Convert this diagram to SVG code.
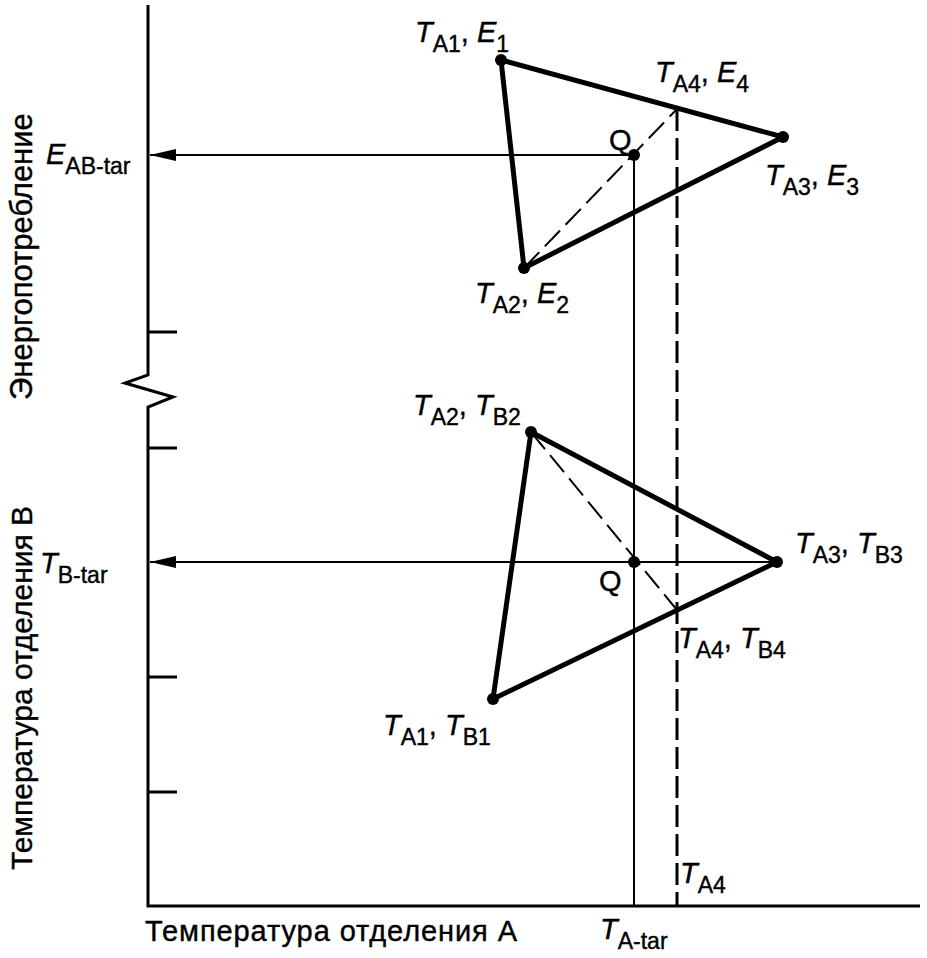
<svg xmlns="http://www.w3.org/2000/svg" width="927" height="958" viewBox="0 0 927 958">
<style>
text{font-family:"Liberation Sans",Arial,sans-serif;fill:#000;stroke:#000;stroke-width:0.4}
.lbl{font-size:29px}
.vl{font-size:30px}
.it{font-style:italic}
.sub{font-size:23px}
.ax{stroke:#000;stroke-width:3;fill:none}
.tri{stroke:#000;stroke-width:5;fill:none;stroke-linejoin:round}
.thin{stroke:#000;stroke-width:2;fill:none}
.dash{stroke:#000;stroke-width:2;fill:none;stroke-dasharray:22 8}
.dash2{stroke:#000;stroke-width:3;fill:none;stroke-dasharray:22 7}
.dot{fill:#000}
</style>
<defs>
<marker id="arr" markerWidth="26" markerHeight="12" refX="26" refY="6" orient="auto" markerUnits="userSpaceOnUse">
<path d="M26,6 L0,0 L0,12 Z" fill="#000"/>
</marker>
</defs>
<g id="axes">
<path class="ax" d="M148,5 V375 L125,383 L173,397 L148,407 V906 H920"/>
<path class="ax" d="M148,332 H177 M148,448 H177 M148,677 H177 M148,792 H177"/>
</g>
<g id="connectors">
<path class="thin" d="M634,155 H150" marker-end="url(#arr)"/>
<path class="thin" d="M777,562 H150" marker-end="url(#arr)"/>
<path class="thin" d="M634,155 V906"/>
<path class="dash2" d="M677,109 V906"/>
<path class="dash" d="M524,268 L677,109"/>
<path class="dash" d="M531,432 L677,610"/>
</g>
<g id="triangle-energy">
<path class="tri" d="M501,60 L783,137 L524,268 Z"/>
<circle class="dot" cx="501" cy="60" r="6"/>
<circle class="dot" cx="783" cy="137" r="6"/>
<circle class="dot" cx="524" cy="268" r="6"/>
<circle class="dot" cx="634" cy="155" r="6"/>
</g>
<g id="triangle-temp">
<path class="tri" d="M531,432 L777,562 L493,699 Z"/>
<circle class="dot" cx="531" cy="432" r="6"/>
<circle class="dot" cx="777" cy="562" r="6"/>
<circle class="dot" cx="493" cy="699" r="6"/>
<circle class="dot" cx="634" cy="562" r="6"/>
</g>
<g id="labels">
<text class="lbl" x="415" y="42"><tspan class="it">T</tspan><tspan class="sub" dy="10">A1</tspan><tspan dy="-10">, </tspan><tspan class="it">E</tspan><tspan class="sub" dy="10">1</tspan></text>
<text class="lbl" x="655" y="82"><tspan class="it">T</tspan><tspan class="sub" dy="10">A4</tspan><tspan dy="-10">, </tspan><tspan class="it">E</tspan><tspan class="sub" dy="10">4</tspan></text>
<text class="lbl" x="609" y="150">Q</text>
<text class="lbl" x="765" y="185"><tspan class="it">T</tspan><tspan class="sub" dy="10">A3</tspan><tspan dy="-10">, </tspan><tspan class="it">E</tspan><tspan class="sub" dy="10">3</tspan></text>
<text class="lbl" x="475" y="303"><tspan class="it">T</tspan><tspan class="sub" dy="10">A2</tspan><tspan dy="-10">, </tspan><tspan class="it">E</tspan><tspan class="sub" dy="10">2</tspan></text>
<text class="lbl" x="46" y="164"><tspan class="it">E</tspan><tspan class="sub" dy="10">AB-tar</tspan></text>
<text class="lbl" x="413" y="415"><tspan class="it">T</tspan><tspan class="sub" dy="10">A2</tspan><tspan dy="-10">, </tspan><tspan class="it">T</tspan><tspan class="sub" dy="10">B2</tspan></text>
<text class="lbl" x="795" y="553"><tspan class="it">T</tspan><tspan class="sub" dy="10">A3</tspan><tspan dy="-10">, </tspan><tspan class="it">T</tspan><tspan class="sub" dy="10">B3</tspan></text>
<text class="lbl" x="599" y="591">Q</text>
<text class="lbl" x="678" y="648"><tspan class="it">T</tspan><tspan class="sub" dy="10">A4</tspan><tspan dy="-10">, </tspan><tspan class="it">T</tspan><tspan class="sub" dy="10">B4</tspan></text>
<text class="lbl" x="383" y="735"><tspan class="it">T</tspan><tspan class="sub" dy="10">A1</tspan><tspan dy="-10">, </tspan><tspan class="it">T</tspan><tspan class="sub" dy="10">B1</tspan></text>
<text class="lbl" x="40" y="573"><tspan class="it">T</tspan><tspan class="sub" dy="10">B-tar</tspan></text>
<text class="lbl" x="680" y="883"><tspan class="it">T</tspan><tspan class="sub" dy="10">A4</tspan></text>
<text class="lbl" x="600" y="939"><tspan class="it">T</tspan><tspan class="sub" dy="10">A-tar</tspan></text>
<text class="lbl" x="145" y="941" textLength="372">Температура отделения А</text>
<text class="vl" style="font-size:31px" transform="translate(32,400) rotate(-90)">Энергопотребление</text>
<text class="vl" transform="translate(32,870) rotate(-90)">Температура отделения В</text>
</g>
</svg>
